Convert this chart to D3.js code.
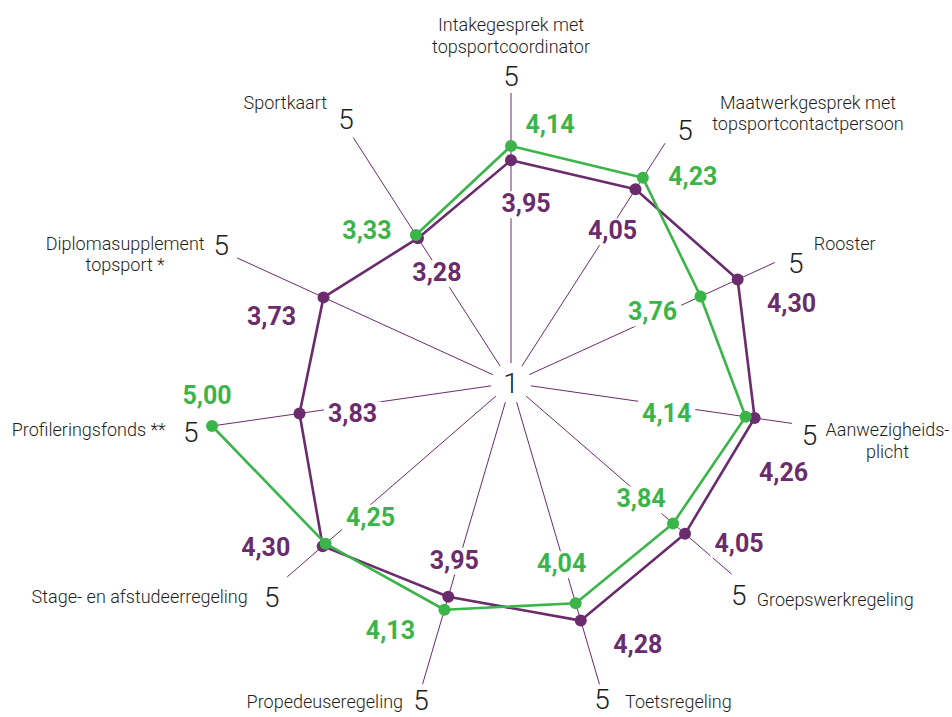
<!DOCTYPE html>
<html>
<head>
<meta charset="utf-8">
<script src="https://cdn.jsdelivr.net/npm/d3@7"></script>
<style>
  html, body { margin: 0; padding: 0; background: #ffffff; }
  svg { display: block; }
  text { font-family: Roboto, "Noto Sans", sans-serif; }
</style>
</head>
<body>
<svg id="chart" width="952" height="717"></svg>
<script>
// ---------- data ----------
const categories = [
  ["Intakegesprek met", "topsportcoordinator"],
  ["Maatwerkgesprek met", "topsportcontactpersoon"],
  ["Rooster"],
  ["Aanwezigheids-", "plicht"],
  ["Groepswerkregeling"],
  ["Toetsregeling"],
  ["Propedeuseregeling"],
  ["Stage- en afstudeerregeling"],
  ["Profileringsfonds **"],
  ["Diplomasupplement", "topsport *"],
  ["Sportkaart"]
];
const purpleValues = [3.95, 4.05, 4.30, 4.26, 4.05, 4.28, 3.95, 4.30, 3.83, 3.73, 3.28];
const greenValues  = [4.14, 4.23, 3.76, 4.14, 3.84, 4.04, 4.13, 4.25, 5.00, null, 3.33];
const scaleMin = 1;
const scaleMax = 5;

// ---------- layout (label placement only) ----------
// five: [radius, angle nudge deg]; cat: [dx, dy, anchor] from the "5" label; spoke: outer radius
const layout = [
  { five: [307, 0.0],  cat: [0, -51, "middle"],  spoke: 290 },
  { five: [307, 1.8],  cat: [123, -28, "middle"], spoke: 285 },
  { five: [309, 1.7],  cat: [18, -20, "start"],  spoke: 290 },
  { five: [303, 1.7],  cat: [78, -5, "middle"],  spoke: 284 },
  { five: [311, 2.0],  cat: [18, 5, "start"],    spoke: 292 },
  { five: [329, 0.3],  cat: [23, 2, "start"],    spoke: 314 },
  { five: [329, -0.5], cat: [-18, 2, "end"],     spoke: 314 },
  { five: [321, -0.9], cat: [-24, 0, "end"],     spoke: 296 },
  { five: [324, -0.5], cat: [-25, -2, "end"],    spoke: 301 },
  { five: [321, 0.9],  cat: [-96, -2, "middle"], spoke: 301 },
  { five: [311, 0.7],  cat: [-19, -17, "end"],   spoke: 292 }
];
const purpleLabelOffsets = [[15,43],[-23,41],[54,23],[29,54],[54,9],[57,23],[6,-37],[-57,1],[53,0],[-52,19],[19,34]];
const greenLabelOffsets  = [[39,-22],[50,-2],[-48,15],[-79,-4],[-32,-25],[-14,-40],[-54,20],[45,-27],[-5,-31],null,[-49,-5]];

const PURPLE = "#6a2c6c";
const GREEN = "#3bb54a";
const TEXT = "#1e1e1e";

// ---------- chart ----------
const svg = d3.select("#chart");
const cx = 511, cy = 383, R = 302;
const n = categories.length;

const r = d3.scaleLinear().domain([scaleMin, scaleMax]).range([0, R]);
const angle = d3.scaleLinear().domain([0, n]).range([0, 2 * Math.PI]);

const g = svg.append("g").attr("transform", `translate(${cx},${cy})`);
const pt = (i, rad) => [Math.sin(angle(i)) * rad, -Math.cos(angle(i)) * rad];

// spokes
g.selectAll("line.spoke").data(categories).join("line")
  .attr("class", "spoke")
  .attr("x1", (d, i) => pt(i, 20)[0])
  .attr("y1", (d, i) => pt(i, 20)[1])
  .attr("x2", (d, i) => pt(i, layout[i].spoke)[0])
  .attr("y2", (d, i) => pt(i, layout[i].spoke)[1])
  .attr("stroke", PURPLE)
  .attr("stroke-width", 1);

// center "1"
g.append("text")
  .attr("x", 0).attr("y", 0).attr("dy", "0.36em")
  .attr("text-anchor", "middle")
  .attr("font-size", 28).attr("font-weight", 300).attr("fill", TEXT)
  .text(scaleMin);

// "5" labels + category labels
const fivePos = i => {
  const a = angle(i) + layout[i].five[1] * Math.PI / 180;
  const rr = layout[i].five[0];
  return [Math.sin(a) * rr, -Math.cos(a) * rr];
};
categories.forEach((lines, i) => {
  const [fx, fy] = fivePos(i);
  g.append("text")
    .attr("x", fx).attr("y", fy).attr("dy", "0.36em")
    .attr("text-anchor", "middle")
    .attr("font-size", 28).attr("font-weight", 300).attr("fill", TEXT)
    .text(scaleMax);
  const [dx, dy, anchor] = layout[i].cat;
  const t = g.append("text")
    .attr("text-anchor", anchor)
    .attr("font-size", 18).attr("font-weight", 300).attr("fill", TEXT);
  lines.forEach((ln, j) => {
    t.append("tspan")
      .attr("x", fx + dx)
      .attr("y", fy + dy + j * 21.5)
      .attr("dy", "0.36em")
      .text(ln);
  });
});

// series points
const purplePts = purpleValues.map((v, i) => pt(i, r(v)));
const greenPts = greenValues.map((v, i) => v == null ? null : pt(i, r(v)));

// value labels (white knockout boxes over the spokes, below the series)
const nl = d3.formatLocale({ decimal: ",", thousands: ".", grouping: [3], currency: ["€", ""] });
const fmt = nl.format(".2f");

const labelLayer = g.append("g");
const labelItems = [];
purpleValues.forEach((v, i) => labelItems.push({
  x: purplePts[i][0] + purpleLabelOffsets[i][0],
  y: purplePts[i][1] + purpleLabelOffsets[i][1],
  text: fmt(v), color: PURPLE
}));
greenValues.forEach((v, i) => { if (v != null) labelItems.push({
  x: greenPts[i][0] + greenLabelOffsets[i][0],
  y: greenPts[i][1] + greenLabelOffsets[i][1],
  text: fmt(v), color: GREEN
}); });

const lg = labelLayer.selectAll("g.vl").data(labelItems).join("g").attr("class", "vl");
const bgRects = lg.append("rect").attr("fill", "#ffffff");
lg.append("text")
  .attr("x", d => d.x).attr("y", d => d.y).attr("dy", "0.36em")
  .attr("text-anchor", "middle")
  .attr("font-size", 25).attr("font-weight", 700)
  .attr("fill", d => d.color)
  .text(d => d.text);
lg.each(function () {
  const node = d3.select(this);
  const bb = node.select("text").node().getBBox();
  node.select("rect")
    .attr("x", bb.x - 4).attr("y", bb.y + 2)
    .attr("width", bb.width + 8).attr("height", bb.height - 2);
});

// series lines
g.append("path")
  .attr("d", d3.line().curve(d3.curveLinearClosed)(purplePts))
  .attr("fill", "none").attr("stroke", PURPLE).attr("stroke-width", 2.6)
  .attr("stroke-linejoin", "round");

// green: open path starting after the missing value
const missing = greenValues.findIndex(v => v == null);
const greenOrder = d3.range(n).map(k => (missing + 1 + k) % n).filter(i => greenValues[i] != null);
g.append("path")
  .attr("d", d3.line()(greenOrder.map(i => greenPts[i])))
  .attr("fill", "none").attr("stroke", GREEN).attr("stroke-width", 2.6)
  .attr("stroke-linejoin", "round");

g.selectAll("circle.p").data(purplePts).join("circle")
  .attr("class", "p")
  .attr("cx", d => d[0]).attr("cy", d => d[1]).attr("r", 6)
  .attr("fill", PURPLE);

g.selectAll("circle.g").data(greenPts.filter(d => d)).join("circle")
  .attr("class", "g")
  .attr("cx", d => d[0]).attr("cy", d => d[1]).attr("r", 6)
  .attr("fill", GREEN);
</script>
</body>
</html>
